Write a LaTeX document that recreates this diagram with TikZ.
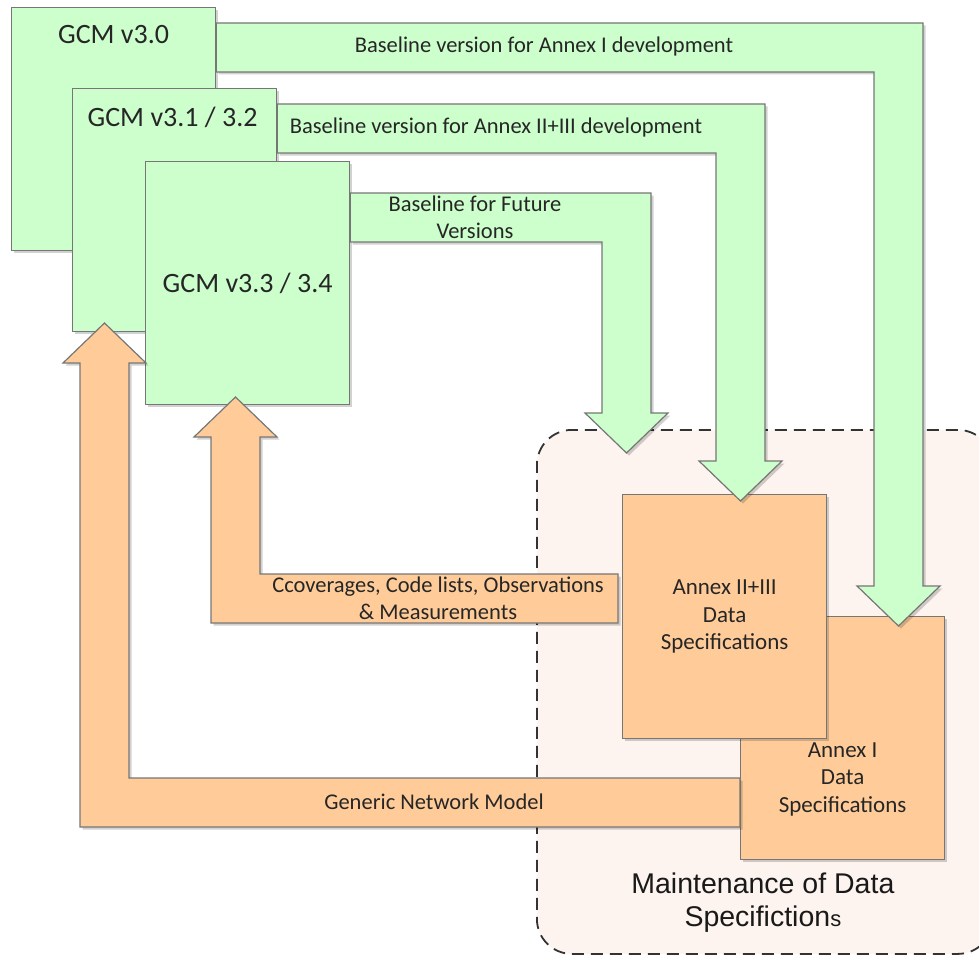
\documentclass[tikz,border=0pt]{standalone}
\usepackage{fontspec}
\setmainfont{Carlito}
\newfontfamily\maintfont{Liberation Sans}
\usetikzlibrary{calc,shadows}

\definecolor{gcmgreen}{HTML}{CCFFCC}
\definecolor{specorange}{HTML}{FFCC99}
\definecolor{edgegray}{HTML}{767676}
\definecolor{maintpink}{HTML}{FDF4EF}

\tikzset{
	softshadow/.style={drop shadow={shadow xshift=2.5pt, shadow yshift=-2.5pt, opacity=0.18, fill=black}},
	box/.style={draw=edgegray, line width=1.2pt, inner sep=0pt, anchor=north west, softshadow},
	gcmbox/.style={box, fill=gcmgreen, minimum width=204pt, minimum height=243pt},
	specbox/.style={box, fill=specorange, minimum width=204pt, minimum height=243pt},
	greenblock/.style={draw=edgegray, line width=1.2pt, fill=gcmgreen, softshadow},
	orangeblock/.style={draw=edgegray, line width=1.2pt, fill=specorange, softshadow},
	gcmtxt/.style={font=\fontsize{28}{34}\selectfont, text=black!85, inner sep=0pt},
	spectxt/.style={font=\fontsize{23}{27.5}\selectfont, text=black!85, align=center, inner sep=0pt},
	flowtxt/.style={font=\fontsize{22.5}{27}\selectfont, text=black!85, align=center, inner sep=0pt},
	maintframe/.style={draw=black!80, line width=1.8pt, dash pattern=on 12pt off 7pt, fill=maintpink, rounded corners=35pt, anchor=north west, minimum width=456pt, minimum height=524pt}
}

% green flow: source box, band top, outer x, tip y
\newcommand\downflow[4]{%
	\pgfmathsetmacro\fya{#2+49}\pgfmathsetmacro\fyb{#4-40}\pgfmathsetmacro\fxa{#3-49}%
	\pgfmathsetmacro\fxl{#3-66}\pgfmathsetmacro\fxr{#3+17}\pgfmathsetmacro\fxm{#3-24.5}%
	\draw[greenblock] (#1.east |- 0,#2) -- (#3,#2) -- (#3,\fyb) -- (\fxr,\fyb) -- (\fxm,#4) -- (\fxl,\fyb) -- (\fxa,\fyb) -- (\fxa,\fya) -- (#1.east |- 0,\fya) -- cycle;}
% orange flow: start point, band bottom, outer x, tip y
\newcommand\upflow[4]{%
	\pgfmathsetmacro\fya{#2-49}\pgfmathsetmacro\fyb{#4+40}\pgfmathsetmacro\fxa{#3+49}%
	\pgfmathsetmacro\fxl{#3-17}\pgfmathsetmacro\fxr{#3+66}\pgfmathsetmacro\fxm{#3+24.5}%
	\draw[orangeblock] (#1 |- 0,#2) -- (#3,#2) -- (#3,\fyb) -- (\fxl,\fyb) -- (\fxm,#4) -- (\fxr,\fyb) -- (\fxa,\fyb) -- (\fxa,\fya) -- (#1 |- 0,\fya) -- cycle;}

\begin{document}
\begin{tikzpicture}[x=1pt, y=-1pt]
		%%%%% START %%%%%
		\useasboundingbox (0,0) rectangle (979,955);
		\clip (0,0) rectangle (979,955);
		
		\node[maintframe] (maint) at (536,429) {};
		\node[font=\maintfont\fontsize{28.5}{33}\selectfont, text=black!90, align=center, inner sep=0pt] (mainttxt) at ($(maint.south)+(-2,-52)$) {Maintenance of Data\\Specifiction{\fontsize{22}{33}\selectfont s}};
		
		\node[gcmbox] (gcm30) at (11,7) {};
		\node[gcmbox] (gcm31) at ($(gcm30.north west)+(61,81)$) {};
		\node[gcmbox] (gcm33) at ($(gcm31.north west)+(73,73)$) {};
		
		\node[specbox] (annex1) at (740,616) {};
		\node[specbox, minimum height=244pt] (annex23) at (622,494) {};
		\coordinate (covend) at ($(annex23.west)+(-4,0)$);
		
		\node[gcmtxt] (gcm30txt) at ($(gcm30.north)+(0,28)$) {GCM v3.0};
		\node[gcmtxt] (gcm31txt) at ($(gcm31.north)+(-2,29)$) {GCM v3.1 / 3.2};
		\node[gcmtxt] (gcm33txt) at (gcm33.center) {GCM v3.3 / 3.4};
		\node[spectxt] (annex23txt) at (annex23.center) {Annex II+III\\Data\\Specifications};
		\node[spectxt] (annex1txt) at ($(annex1.center)+(0,41)$) {Annex I\\Data\\Specifications};
		
		\downflow{gcm30}{23}{923}{626}
		\downflow{gcm31}{104}{765}{501}
		\downflow{gcm33}{193}{651}{453}
		
		\upflow{covend}{623}{211}{397}
		\upflow{annex1.west}{827}{80}{323}
		
		\node[flowtxt] (flow1txt) at (544,47) {Baseline version for Annex I development};
		\node[flowtxt] (flow2txt) at (496,128) {Baseline version for Annex II+III development};
		\node[flowtxt] (flow3txt) at (475,217) {Baseline for Future\\Versions};
		\node[flowtxt] (covtxt) at (438,598) {Ccoverages, Code lists, Observations\\\& Measurements};
		\node[flowtxt] (gnmtxt) at (434,802) {Generic Network Model};
		
		%%%%% END %%%%%
	\end{tikzpicture}
\end{document}
